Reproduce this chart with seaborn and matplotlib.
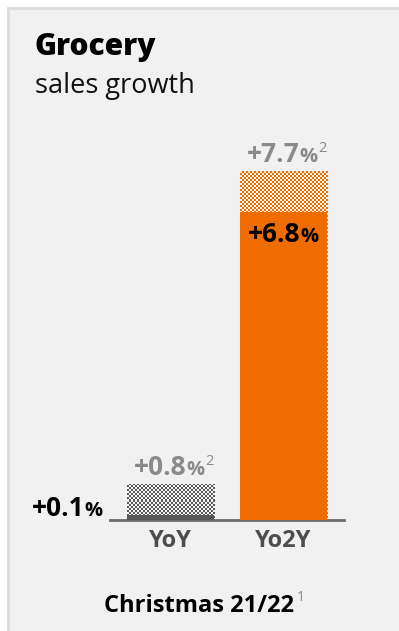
import numpy as np
import matplotlib
matplotlib.use("Agg")
import matplotlib.pyplot as plt
from matplotlib.patches import Rectangle
from matplotlib.transforms import IdentityTransform
import seaborn as sns

# ---- data -------------------------------------------------------------
categories = ["YoY", "Yo2Y"]
growth_solid = [0.1, 6.8]      # growth shown as solid bar
growth_total = [0.8, 7.7]      # growth incl. checkered extension (footnote 2)
title = "Grocery"
subtitle = "sales growth"
period_label = "Christmas 21/22"

# ---- style ------------------------------------------------------------
sns.set_theme(style="white")
plt.rcParams["font.family"] = ["Open Sans", "DejaVu Sans"]

ORANGE = "#EF6C00"
DARK = "#595959"
LIGHT_ORANGE = "#FAF1E9"
LIGHT_GREY = "#F6F6F6"
LABEL_GREY = "#8A8A8A"
CARD = "#F1F1F1"

solid_colors = [DARK, ORANGE]
checker_colors = [(DARK, LIGHT_GREY), (ORANGE, LIGHT_ORANGE)]

W, H = 399, 631
fig = plt.figure(figsize=(W / 100, H / 100), dpi=100, facecolor="white")

# card background with a thin border on top/left
fig.patches.append(Rectangle((8 / W, -0.02), 1.1, (H - 8) / H + 0.02,
                             transform=fig.transFigure, facecolor=CARD,
                             edgecolor="#DCDCDC", linewidth=2, zorder=-5))

ax = fig.add_axes([110 / W, (H - 520) / H, 234 / W, 349 / H])
ax.set_facecolor("none")

sns.barplot(x=categories, y=growth_total, hue=categories, palette=solid_colors,
            width=0.77, saturation=1, linewidth=0, legend=False, ax=ax)
sns.barplot(x=categories, y=growth_solid, hue=categories, palette=solid_colors,
            width=0.77, saturation=1, linewidth=0, legend=False, ax=ax)

ax.set_xlim(-0.535, 1.535)
ax.set_ylim(0, 7.7)
ax.set_yticks([])
for s in ["top", "right", "left"]:
    ax.spines[s].set_visible(False)
ax.spines["bottom"].set_color("#6B6B6B")
ax.spines["bottom"].set_linewidth(2)
ax.tick_params(axis="x", length=0, pad=6.5)
for lab in ax.get_xticklabels():
    lab.set_fontweight("bold")
    lab.set_fontsize(17)
    lab.set_color("#4D4D4D")

total_patches = ax.patches[:2]
solid_patches = ax.patches[2:4]
for p in solid_patches:
    p.set_zorder(3)

# checkered fill for the extension part of each bar
for p, (c1, c2) in zip(total_patches, checker_colors):
    x0, y0, w, h = p.get_x(), p.get_y(), p.get_width(), p.get_height()
    (px0, py0) = ax.transData.transform((x0, y0))
    (px1, py1) = ax.transData.transform((x0 + w, y0 + h))
    nx = max(1, int(round((px1 - px0) / 2)))
    ny = max(1, int(round((py1 - py0) / 2)))
    a = np.array(matplotlib.colors.to_rgb(c1))
    b = np.array(matplotlib.colors.to_rgb(c2))
    ii, jj = np.indices((ny, nx))
    mask = ((ii + jj) % 2 == 0)[..., None]
    img = np.where(mask, a, b)
    im = ax.imshow(img, extent=(x0, x0 + w, y0, y0 + h), origin="lower",
                   interpolation="nearest", aspect="auto", zorder=2)
    im.set_clip_path(p)
    p.set_visible(False)

ax.set_xlim(-0.535, 1.535)
ax.set_ylim(0, 7.7)

renderer = fig.canvas.get_renderer()


def rich(x, y, runs, ha="center"):
    """Draw a row of text pieces in display pixels; y is the baseline.
    runs: list of (text, size, color, raise_px, weight, gap_px)."""
    widths = []
    for s, size, color, rise, weight, gap in runs:
        t = fig.text(0, 0, s, fontsize=size, fontweight=weight)
        widths.append(t.get_window_extent(renderer).width + gap)
        t.remove()
    total = sum(widths)
    start = x - total / 2 if ha == "center" else (x - total if ha == "right" else x)
    cx = start
    for (s, size, color, rise, weight, gap), wdt in zip(runs, widths):
        fig.text(cx + gap, y + rise, s, fontsize=size, fontweight=weight, color=color,
                 transform=IdentityTransform(), ha="left", va="baseline", zorder=5)
        cx += wdt


def pct_runs(value, color, sup=None):
    r = [(f"+{value:.1f}", 19, color, 0, "bold", 0),
         ("%", 14.5, color, 0, "bold", 0)]
    if sup:
        r.append((sup, 10.5, color, 10, "normal", 1))
    return r


# value labels tied to the bar tops
for i, (tot, sol) in enumerate(zip(growth_total, growth_solid)):
    cx, ytop = ax.transData.transform((i, tot))
    rich(cx + 3, ytop + 9, pct_runs(tot, LABEL_GREY, "2"))

# YoY solid value sits left of its bar, Yo2Y solid value inside the bar
bx, by = ax.transData.transform((0 - 0.77 / 2, 0))
rich(bx - 24, by + 4, pct_runs(growth_solid[0], "black"), ha="right")
cx, ytop = ax.transData.transform((1, growth_solid[1]))
rich(cx, ytop - 30, pct_runs(growth_solid[1], "black"))

# header
fig.text(35 / W, 1 - 55 / H, title, fontsize=21.5, fontweight="heavy", color="black",
         ha="left", va="baseline")
fig.text(35 / W, 1 - 93 / H, subtitle, fontsize=19.5, color="#111111",
         ha="left", va="baseline")

# footer
rich(W / 2 + 5, H - 612, [(period_label, 17, "black", 0, "bold", 0),
                          ("1", 10, "#8A8A8A", 11, "normal", 3)])

fig.savefig("out.png", dpi=100, facecolor=fig.get_facecolor())
